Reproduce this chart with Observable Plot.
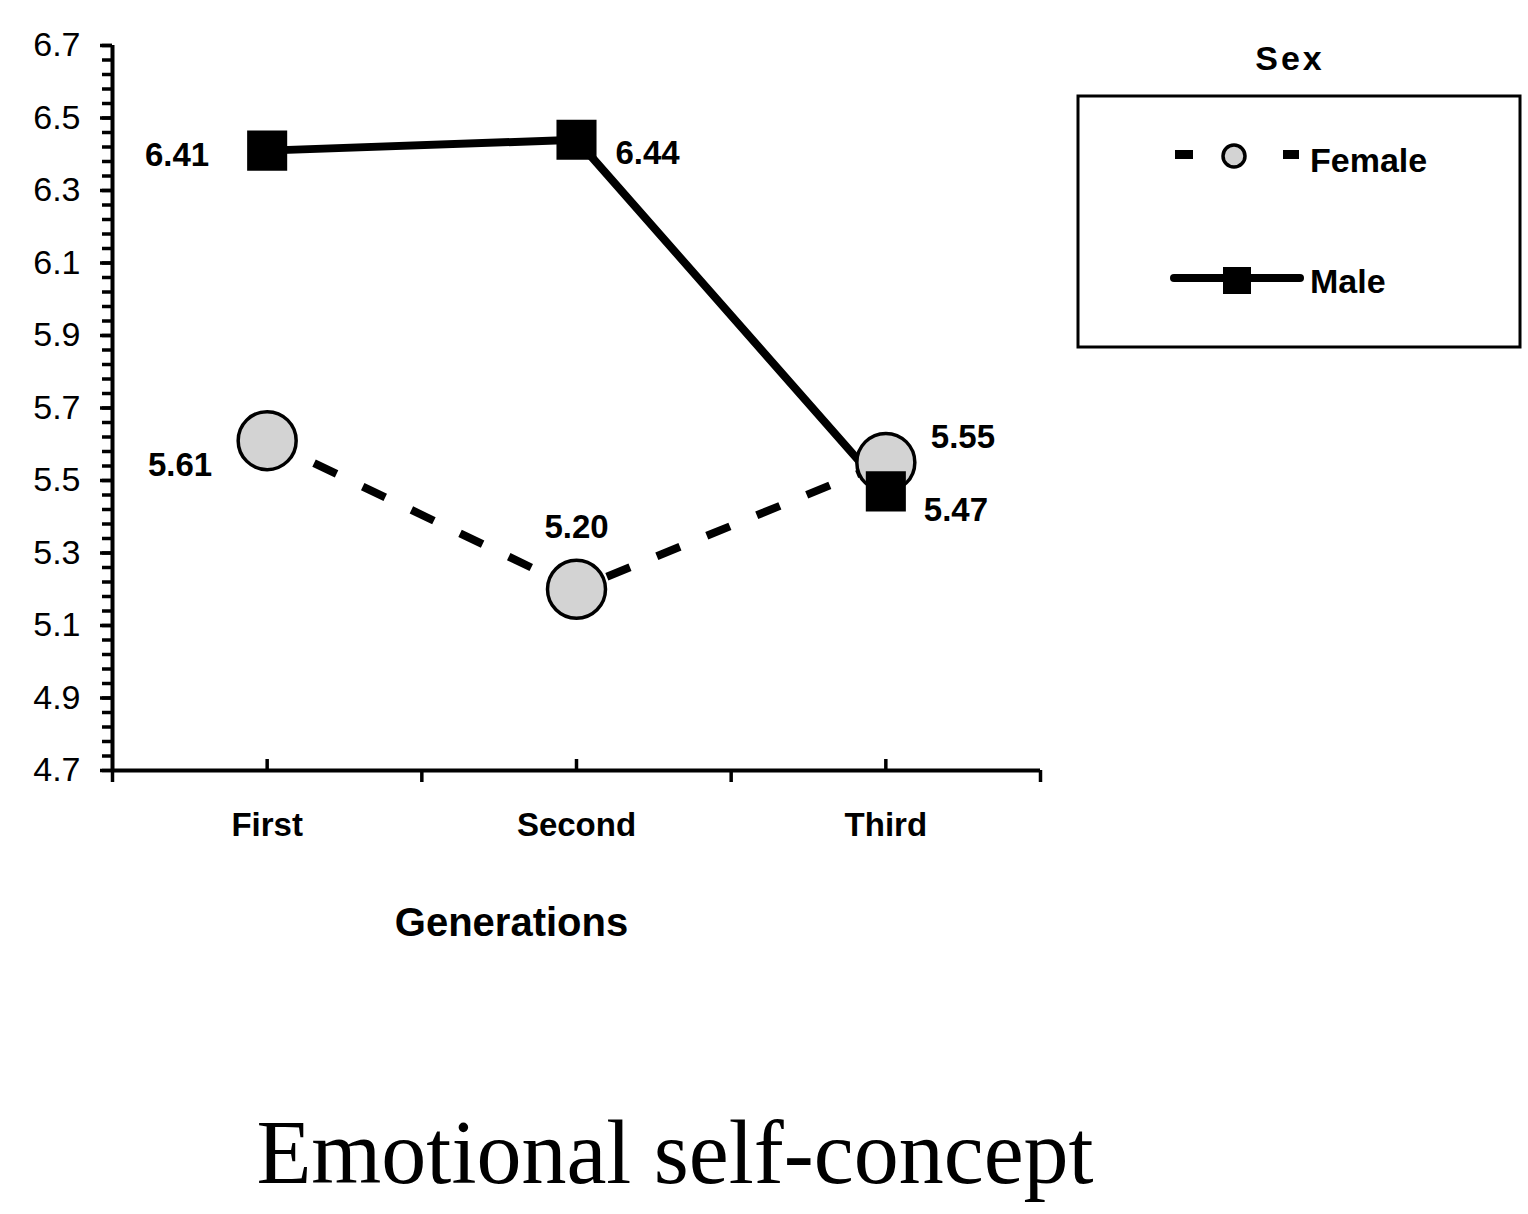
<!DOCTYPE html>
<html>
<head>
<meta charset="utf-8">
<script src="https://cdn.jsdelivr.net/npm/d3@7"></script>
<script src="https://cdn.jsdelivr.net/npm/@observablehq/plot@0.6"></script>
<style>
  html, body { margin: 0; padding: 0; background: #fff; }
  #wrap { position: relative; width: 1528px; height: 1214px; overflow: hidden; }
  #caption { position: absolute; left: 0; top: 1108px; width: 1350px; text-align: center;
    font-family: "Liberation Serif", "DejaVu Serif", serif; font-size: 90px; line-height: 1; color: #000; }
  #legend { position: absolute; left: 0; top: 0; }
</style>
</head>
<body>
<div id="wrap"></div>
<script>
// ---- data ----
const generations = ["First", "Second", "Third"];
const femaleValues = [5.61, 5.20, 5.55];
const maleValues = [6.41, 6.44, 5.47];
const yMajorTicks = [4.7, 4.9, 5.1, 5.3, 5.5, 5.7, 5.9, 6.1, 6.3, 6.5, 6.7];
const yMinorStep = 0.04;
const seriesNames = ["Female", "Male"];
const legendTitle = "Sex";
const xTitle = "Generations";
const captionText = "Emotional self-concept";

// ---- derived tables ----
const female = generations.map((g, i) => ({gen: g, pos: i + 0.5, value: femaleValues[i]}));
const male = generations.map((g, i) => ({gen: g, pos: i + 0.5, value: maleValues[i]}));
const yMinorTicks = d3.range(0, 51).map(i => +(4.7 + i * yMinorStep).toFixed(2));
const bandEdges = d3.range(0, generations.length + 1);

const font = "Liberation Sans, Arial, sans-serif";
const fmt = d3.format(".2f");

function label(data, i, dx, dy, anchor) {
  return Plot.text([data[i]], {
    x: "pos", y: "value", text: d => fmt(d.value),
    dx, dy, textAnchor: anchor, fontWeight: "bold", fontSize: 33, fill: "black"
  });
}

const chart = Plot.plot({
  width: 1528,
  height: 960,
  marginLeft: 112,
  marginRight: 488,
  marginTop: 45,
  marginBottom: 190,
  style: {fontFamily: font, fontSize: "33px", color: "black", background: "white", overflow: "visible"},
  x: {domain: [0, generations.length], axis: null},
  y: {domain: [4.7, 6.7], axis: null},
  marks: [
    // y axis
    Plot.axisY({ticks: yMinorTicks, tickSize: 10, tickFormat: () => "", strokeWidth: 3.5, label: null}),
    Plot.axisY({ticks: yMajorTicks, tickSize: 12, tickPadding: 20, tickFormat: d3.format(".1f"),
      strokeWidth: 3.5, fontSize: 34, label: null}),
    // x axis
    Plot.axisX({ticks: bandEdges, tickSize: 12, tickFormat: () => "", strokeWidth: 3.5, label: null}),
    Plot.axisX({ticks: female.map(d => d.pos), tickSize: -11, tickFormat: () => "", strokeWidth: 3.5, label: null}),
    Plot.axisX({ticks: female.map(d => d.pos), tickSize: 0, tickPadding: 42, label: null,
      tickFormat: p => generations[Math.floor(p)], fontWeight: "bold", fontSize: 33}),
    Plot.ruleX([0], {strokeWidth: 4}),
    Plot.ruleY([4.7], {strokeWidth: 4}),
    Plot.text([xTitle], {frameAnchor: "bottom", dx: -65, dy: 165, fontWeight: "bold", fontSize: 40,
      style: "letter-spacing:3px"}),
    // series lines
    Plot.line(female, {x: "pos", y: "value", stroke: "black", strokeWidth: 8,
      strokeDasharray: "25,29", strokeDashoffset: 2, strokeLinecap: "butt"}),
    Plot.line(male, {x: "pos", y: "value", stroke: "black", strokeWidth: 8}),
    // markers
    Plot.dot(female, {x: "pos", y: "value", r: 29, fill: "#d3d3d3", stroke: "black", strokeWidth: 3.5}),
    Plot.dot(male, {x: "pos", y: "value", symbol: "square", r: 22.6, fill: "black", stroke: "none"}),
    // value labels
    label(male, 0, -58, 5, "end"),
    label(male, 1, 39, 14, "start"),
    label(male, 2, 38, 19, "start"),
    label(female, 0, -55, 25, "end"),
    label(female, 1, 0, -62, "middle"),
    label(female, 2, 45, -25, "start")
  ]
});

const wrap = document.getElementById("wrap");
wrap.appendChild(chart);

// ---- legend ----
const lg = d3.select(wrap).append("svg").attr("id", "legend")
  .attr("width", 1528).attr("height", 400)
  .style("font-family", font);
lg.append("text").attr("x", 1290).attr("y", 70).attr("text-anchor", "middle")
  .attr("font-weight", "bold").attr("font-size", 34).style("letter-spacing", "3px").text(legendTitle);
lg.append("rect").attr("x", 1078).attr("y", 96).attr("width", 442).attr("height", 251)
  .attr("fill", "none").attr("stroke", "black").attr("stroke-width", 3);
// female entry
lg.append("rect").attr("x", 1175).attr("y", 150).attr("width", 18).attr("height", 9).attr("fill", "black");
lg.append("rect").attr("x", 1283).attr("y", 150).attr("width", 16).attr("height", 9).attr("fill", "black");
lg.append("circle").attr("cx", 1234).attr("cy", 156).attr("r", 11)
  .attr("fill", "#d3d3d3").attr("stroke", "black").attr("stroke-width", 3.5);
lg.append("text").attr("x", 1310).attr("y", 172).attr("font-weight", "bold").attr("font-size", 34).text(seriesNames[0]);
// male entry
lg.append("line").attr("x1", 1174).attr("x2", 1300).attr("y1", 278).attr("y2", 278)
  .attr("stroke", "black").attr("stroke-width", 8).attr("stroke-linecap", "round");
lg.append("rect").attr("x", 1223).attr("y", 267).attr("width", 28).attr("height", 27).attr("fill", "black");
lg.append("text").attr("x", 1310).attr("y", 293).attr("font-weight", "bold").attr("font-size", 34).text(seriesNames[1]);

// ---- caption ----
const cap = document.createElement("div");
cap.id = "caption";
cap.textContent = captionText;
wrap.appendChild(cap);
</script>
</body>
</html>
